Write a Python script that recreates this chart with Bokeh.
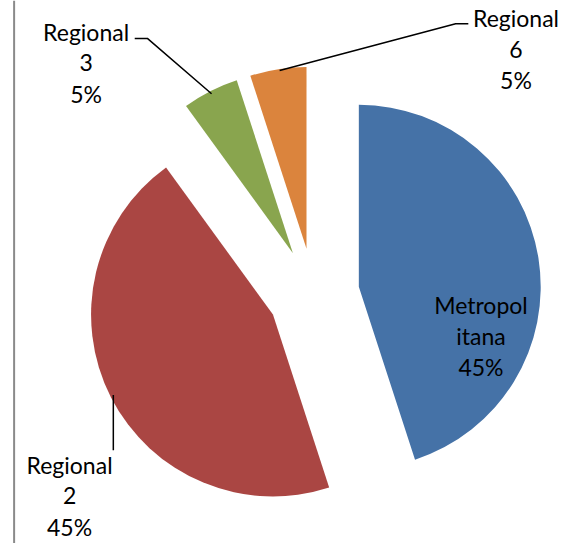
import math
from bokeh.plotting import figure
from bokeh.models import Range1d, Span
from bokeh.core.properties import value
from bokeh.embed import file_html
from bokeh.resources import INLINE

# ---- data ----
categories = ["Metropolitana", "Regional 2", "Regional 3", "Regional 6"]
label_lines = [["Metropol", "itana"], ["Regional", "2"], ["Regional", "3"], ["Regional", "6"]]
shares = [45, 45, 5, 5]
colors = ["#4572A7", "#AA4643", "#89A54E", "#DB843D"]

# ---- layout (reference pixel coordinates, y down) ----
W, H = 568, 543
REF_W, REF_H = 584, 559
center_px = (322, 302)
radius = 187
explode = 47
label_anchor = [(494, 313), (71, 478), (88, 32), (530, 18)]  # first line centre
line_gap = 32
leaders = [
    None,
    [(116, 406), (116, 463)],
    [(138, 39), (151, 39), (217, 96)],
    [(287, 72), (468, 24), (481, 24)],
]
FONT = "Lato"
FSIZE = "23px"


def fy(y):  # reference y (down) -> data y (up)
    return REF_H - y


p = figure(width=W, height=H, output_backend="svg", toolbar_location=None,
           x_range=Range1d(0, REF_W), y_range=Range1d(0, REF_H),
           min_border=0, min_border_left=0, min_border_right=0,
           min_border_top=0, min_border_bottom=0)
p.axis.visible = False
p.xgrid.visible = False
p.ygrid.visible = False
p.outline_line_color = None
p.background_fill_color = "white"
p.border_fill_color = "white"

total = sum(shares)
cx, cy = center_px[0], fy(center_px[1])
acc = 0.0
for i, s in enumerate(shares):
    t1 = acc / total * 360.0
    t2 = (acc + s) / total * 360.0
    acc += s
    tm = math.radians((t1 + t2) / 2)
    ox = cx + explode * math.sin(tm)
    oy = cy + explode * math.cos(tm)
    p.wedge(x=[ox], y=[oy], radius=radius,
            start_angle=[math.radians(90 - t1)], end_angle=[math.radians(90 - t2)],
            direction="clock", fill_color=colors[i], line_color=None)

# leader lines
for pts in leaders:
    if pts:
        p.line(x=[q[0] for q in pts], y=[fy(q[1]) for q in pts],
               line_color="black", line_width=1.5)

# labels
for i, s in enumerate(shares):
    lines = label_lines[i] + [f"{round(s / total * 100)}%"]
    ax, ay = label_anchor[i]
    p.text(x=[ax] * len(lines), y=[fy(ay + k * line_gap) for k in range(len(lines))],
           text=lines, text_font=value(FONT), text_font_size=FSIZE,
           text_align="center", text_baseline="middle", text_color="black")

p.add_layout(Span(location=14, dimension="height", line_color="#8a8a8a", line_width=2))

open("out.html", "w").write(file_html(p, INLINE))
